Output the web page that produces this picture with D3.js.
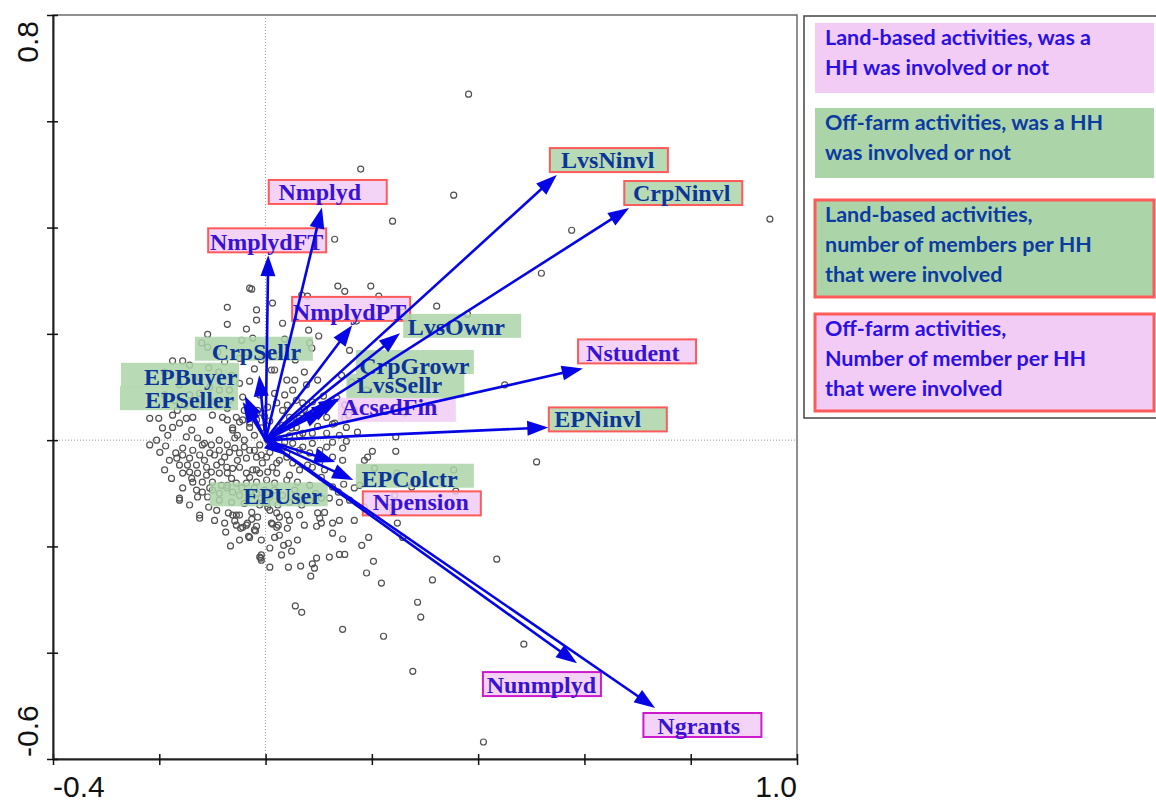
<!DOCTYPE html>
<html>
<head>
<meta charset="utf-8">
<script src="https://d3js.org/d3.v7.min.js"></script>
<style>
  body { margin: 0; background: #ffffff; }
  svg { display: block; }
</style>
</head>
<body>
<svg id="chart" width="1156" height="803"></svg>
<script>
// household scores (axis 1, axis 2)
var sitePoints = [
  [0.382,0.651],[0.179,0.510],[0.354,0.461],[0.239,0.412],[0.130,0.378],[0.576,0.395],[0.519,0.314],[0.949,0.416],
  [-0.030,0.286],[-0.026,0.284],[0.136,0.290],[0.149,0.280],[0.198,0.290],[0.213,0.271],[0.068,0.273],[0.079,0.271],
  [0.322,0.252],[0.380,0.237],[0.258,0.241],[0.450,0.104],[0.262,0.051],[0.201,0.231],[0.171,0.224],[0.158,0.169],
  [0.143,0.122],[0.162,0.109],[0.190,0.094],[0.134,0.079],[0.149,0.066],[0.156,0.047],
  [-0.072,0.250],[-0.017,0.245],[0.013,0.258],[-0.072,0.218],[-0.036,0.209],[-0.017,0.226],[-0.109,0.199],[-0.024,0.192],
  [0.032,0.220],[0.036,0.190],[0.081,0.207],[0.100,0.196],[0.083,0.183],[0.087,0.173],[-0.120,0.183],[-0.109,0.175],
  [-0.090,0.166],[-0.045,0.188],[-0.034,0.164],[-0.049,0.154],[-0.175,0.149],[-0.156,0.149],[0.011,0.132],[0.017,0.132],
  [-0.021,0.134],[-0.107,0.136],[-0.088,0.128],[-0.124,0.117],[-0.030,0.111],[-0.049,0.107],[0.040,0.113],[0.055,0.113],
  [0.077,0.104],[0.098,0.113],[0.051,0.094],[-0.087,0.094],[-0.105,0.100],[-0.068,0.094],[-0.043,0.081],[0.058,0.075],
  [0.070,0.070],[0.088,0.072],[0.109,0.083],[-0.218,0.041],[-0.201,0.041],[-0.175,0.047],[-0.149,0.041],[-0.137,0.043],
  [-0.175,0.024],[-0.184,0.009],[-0.162,0.032],[-0.100,0.047],[-0.081,0.043],[-0.049,0.034],[-0.030,0.032],[-0.062,0.019],
  [-0.105,0.019],[-0.139,0.019],[-0.149,0.006],[0.032,0.028],[0.058,0.034],[0.088,0.013],[0.115,0.013],[0.130,0.032],
  [0.115,0.043],[0.073,0.058],[0.041,0.066],[-0.124,0.066],[-0.096,0.072],[-0.072,0.060],[-0.015,0.056],[-0.002,0.045],
  [0.008,0.036],[-0.008,0.023],[0.017,0.015],[-0.021,0.009],[-0.040,0.000],[-0.058,0.004],[-0.087,0.000],[-0.115,-0.006],
  [-0.128,0.004],[0.004,0.000],[0.011,-0.009],[0.023,0.004],[0.036,-0.004],[0.045,0.008],[0.026,0.019],[0.049,0.023],
  [0.064,0.009],[-0.011,-0.009],[-0.021,-0.019],[-0.008,-0.028],[0.008,-0.023],[0.023,-0.015],[0.034,-0.013],
  [0.126,0.030],[0.152,0.024],[0.173,0.015],[0.139,0.009],[0.126,-0.004],[0.152,-0.002],[0.245,0.006],[0.245,-0.021],
  [0.201,-0.021],[0.192,-0.032],[0.186,-0.038],[0.145,-0.015],[0.145,-0.038],[0.126,-0.032],[0.510,-0.041],[0.205,-0.053],
  [0.247,-0.062],[0.354,-0.056],[0.358,-0.096],[0.275,-0.088],[0.147,-0.083],[0.167,-0.090],[0.137,-0.098],[0.120,-0.109],
  [0.139,-0.117],[0.233,-0.117],[0.243,-0.104],[0.186,-0.126],[0.239,-0.132],[0.248,-0.156],[0.258,-0.183],[0.126,-0.156],
  [0.126,-0.175],[0.145,-0.186],[0.194,-0.183],[0.139,-0.215],[0.149,-0.215],[0.120,-0.220],[0.203,-0.228],[0.190,-0.250],
  [0.218,-0.269],[0.314,-0.263],[0.435,-0.224],[0.286,-0.305],[0.292,-0.333],[0.277,-0.435],[0.486,-0.384],[0.410,-0.568],
  [0.222,-0.369],[0.145,-0.356],[0.056,-0.312],[0.068,-0.324],[-0.008,-0.226],[0.008,-0.239],[0.043,-0.239],[0.066,-0.237],
  [0.088,-0.233],[0.092,-0.241],[0.085,-0.256],[0.181,-0.198],
  [-0.162,-0.113],[-0.124,-0.141],[-0.124,-0.147],[-0.107,-0.126],[-0.092,-0.132],[-0.077,-0.156],[-0.070,-0.137],[-0.062,-0.141],
  [-0.058,-0.152],[-0.049,-0.141],[-0.055,-0.160],[-0.047,-0.166],[-0.036,-0.160],[-0.026,-0.149],[-0.026,-0.136],[-0.032,-0.181],
  [-0.019,-0.171],[-0.017,-0.162],[-0.066,-0.199],[-0.011,-0.220],[-0.009,-0.222],[0.008,-0.203],[0.013,-0.158],[0.024,-0.160],
  [0.017,-0.183],[0.026,-0.179],[0.041,-0.166],[0.034,-0.198],[0.043,-0.194],[0.049,-0.209],[0.096,-0.222],[0.098,-0.137],
  [0.102,-0.147],[0.105,-0.156],[0.096,-0.162],[0.002,-0.119],[0.008,-0.132],[0.021,-0.137],[0.023,-0.122],[-0.011,-0.122],
  [-0.205,0.000],[-0.188,-0.011],[-0.169,-0.024],[-0.156,-0.028],[-0.167,-0.034],[-0.156,-0.015],[-0.137,-0.019],[-0.119,-0.009],
  [-0.105,-0.024],[-0.096,-0.028],[-0.087,-0.019],[-0.077,-0.032],[-0.068,-0.023],[-0.049,-0.024],[-0.036,-0.034],[-0.030,-0.019],
  [-0.017,-0.032],[0.002,-0.032],[0.021,-0.043],[-0.162,-0.047],[-0.147,-0.047],[-0.130,-0.047],[-0.111,-0.051],[-0.092,-0.047],
  [-0.073,-0.051],[-0.062,-0.053],[-0.049,-0.051],[-0.156,-0.062],[-0.143,-0.060],[-0.128,-0.062],[-0.111,-0.066],[-0.087,-0.062],
  [-0.072,-0.062],[-0.036,-0.062],[-0.024,-0.056],[-0.011,-0.062],[0.004,-0.060],[0.021,-0.062],[-0.137,-0.079],[-0.119,-0.079],
  [-0.100,-0.079],[-0.083,-0.085],[-0.072,-0.085],[-0.055,-0.081],[-0.036,-0.081],[-0.017,-0.079],[0.002,-0.075],[0.017,-0.081],
  [0.040,-0.075],[0.060,-0.079],[-0.156,-0.090],[-0.130,-0.094],[-0.119,-0.098],[-0.128,-0.107],[-0.162,-0.109],[-0.100,-0.094],
  [-0.087,-0.100],[-0.073,-0.090],[-0.062,-0.098],[-0.049,-0.104],[-0.030,-0.098],[-0.017,-0.100],[-0.002,-0.094],[0.008,-0.107],
  [-0.055,-0.141],[-0.034,-0.156],[-0.015,-0.145],[0.004,-0.126],[0.026,-0.145],[0.011,-0.156],[0.021,-0.164],[0.041,-0.141],
  [-0.043,-0.164],[-0.030,-0.183],[-0.021,-0.169],[-0.008,-0.216],
  [0.070,-0.013],[0.040,-0.032],[0.051,-0.043],[0.079,-0.047],[0.088,-0.051],[0.102,-0.041],[0.115,-0.013],[0.105,-0.070],
  [0.126,-0.088],[0.105,-0.109],[0.017,-0.094],[0.032,-0.104],[0.045,-0.117],[0.064,-0.113],[0.068,-0.122],[0.083,-0.113],
  [0.083,0.047],[0.098,0.026],[0.064,0.041],[0.105,0.056],[0.149,0.041],[0.167,0.056],
  [-0.068,0.075],[-0.090,0.066],[-0.152,0.066],[-0.171,0.075],[-0.194,0.023],[-0.143,0.085],
  // dense core near the origin
  [-0.055,0.043],[-0.043,0.038],[-0.062,0.023],[-0.053,0.009],[-0.030,0.024],[-0.017,0.038],[-0.006,0.051],[0.004,0.062],
  [0.021,0.070],[0.032,0.056],[0.045,0.043],[0.058,0.024],[0.070,0.013],[0.088,-0.006],[0.102,-0.019],[0.083,-0.024],
  [0.064,-0.019],[0.051,-0.006],[0.040,-0.024],[0.026,-0.038],[0.013,-0.051],[-0.006,-0.043],[-0.017,-0.056],[-0.030,-0.070],
  [-0.218,-0.009],[-0.199,-0.023],[-0.181,-0.038],[-0.190,-0.056],[-0.177,-0.072],[-0.143,-0.034],[-0.124,-0.028],[-0.115,-0.038],
  [-0.102,-0.009],[-0.072,-0.009],[-0.058,-0.015],[-0.040,-0.013],[-0.053,-0.038],[-0.083,-0.041],[-0.102,-0.060],[-0.139,-0.072],
  [-0.105,-0.090],[-0.064,-0.072],[-0.045,-0.090],[-0.021,-0.090],[-0.008,-0.109],[-0.040,-0.119],[-0.064,-0.117],[-0.087,-0.113],
  [-0.109,-0.107],[-0.143,-0.122],[-0.096,-0.151],[-0.075,-0.173],[-0.049,-0.188],[-0.008,-0.188],[0.030,-0.216],[0.060,-0.188],
  [0.073,-0.160],[0.064,-0.141],[0.045,-0.151],[0.055,-0.094],[0.083,-0.085],[0.094,-0.100],[0.111,-0.136],[0.139,-0.151],
  [0.167,-0.151],[0.158,-0.113],[0.177,-0.085],[0.111,-0.056],[0.064,-0.056],[0.045,-0.066],
  [-0.190,0.128],[-0.143,0.141],[-0.077,0.147],[-0.064,0.122],[-0.008,0.151],[0.026,0.160],[0.056,0.151],[0.073,0.128],
  [-0.008,0.090],[0.017,0.088],[0.036,0.085],[-0.124,0.088],[-0.162,0.104],[-0.190,0.085],[-0.166,0.056],[-0.040,0.056],
  [-0.072,0.038],[-0.011,0.085]
];

// explanatory variables
var varNames = ['Nmplyd', 'NmplydFT', 'NmplydPT', 'LvsNinvl', 'CrpNinvl', 'Nstudent', 'EPNinvl',
  'Nunmplyd', 'Ngrants', 'Npension', 'EPColctr', 'EPUser', 'AcsedFin', 'LvsSellr', 'CrpGrowr',
  'LvsOwnr', 'CrpSellr', 'EPBuyer', 'EPSeller'];
var varGroup = ['offN', 'offN', 'offN', 'landN', 'landN', 'offN', 'landN',
  'offN2', 'offN2', 'offN', 'offYN', 'offYN', 'landYN', 'offYN', 'offYN',
  'offYN', 'offYN', 'offYN', 'offYN'];
// arrow tips
var arrowTips = [[0.106,0.438],[0.005,0.348],[0.163,0.216],[0.548,0.499],[0.684,0.437],[0.597,0.135],[0.532,0.024],
  [0.586,-0.420],[0.733,-0.504],[0.131,-0.041],[0.165,-0.075],[0.037,-0.028],[0.112,0.056],[0.127,0.068],[0.140,0.079],
  [0.253,0.201],[-0.012,0.122],[-0.039,0.083],[-0.043,0.072]];
// label text centres
var labelPos = [[0.102,0.467],[0.002,0.373],[0.158,0.241],[0.644,0.527],[0.783,0.465],[0.691,0.164],[0.625,0.040],
  [0.519,-0.461],[0.815,-0.538],[0.292,-0.117],[0.271,-0.072],[0.032,-0.104],[0.233,0.062],[0.252,0.104],[0.280,0.139],
  [0.359,0.213],[-0.017,0.167],[-0.141,0.119],[-0.143,0.075]];
// highlight box centres
var boxPos = [[0.117,0.467],[0.003,0.376],[0.161,0.247],[0.646,0.527],[0.786,0.465],[0.699,0.167],[0.644,0.039],
  [0.520,-0.459],[0.822,-0.536],[0.294,-0.119],[0.281,-0.067],[0.006,-0.102],[0.247,0.057],[0.263,0.102],[0.281,0.147],
  [0.370,0.215],[-0.022,0.172],[-0.161,0.123],[-0.163,0.079]];

var legendLines = [
  ['Land-based activities, was a', 'HH was involved or not'],
  ['Off-farm activities, was a HH', 'was involved or not'],
  ['Land-based activities,', 'number of members per HH', 'that were involved'],
  ['Off-farm activities,', 'Number of member per HH', 'that were involved']
];
var legendGroup = ['landYN', 'offYN', 'landN', 'offN'];

var xTicks = [-0.4, -0.2, 0, 0.2, 0.4, 0.6, 0.8, 1.0];
var yTicks = [-0.6, -0.4, -0.2, 0, 0.2, 0.4, 0.6, 0.8];
var xTickLabels = ['-0.4', '1.0'];
var yTickLabels = ['-0.6', '0.8'];

var green = '#abd5a9', pink = '#f2ccf5';
var groupStyle = {
  landYN: {fill: pink, stroke: 'none', text: '#3a12d4'},
  offYN: {fill: green, stroke: 'none', text: '#0c3598'},
  landN: {fill: green, stroke: '#ff5a5a', text: '#0c3598'},
  offN: {fill: pink, stroke: '#ff5a5a', text: '#3a12d4'},
  offN2: {fill: pink, stroke: '#cc1acc', text: '#3a12d4'}
};
var legendText = {landYN: '#2c10e2', offYN: '#0b3aa0', landN: '#0b3aa0', offN: '#2c10e2'};

var svg = d3.select('#chart');
var x = d3.scaleLinear().domain([-0.4, 1.0]).range([53, 797]);
var y = d3.scaleLinear().domain([-0.6, 0.8]).range([759, 15]);

// frame
svg.append('rect')
    .attr('x', x(-0.4)).attr('y', y(0.8))
    .attr('width', x(1.0) - x(-0.4)).attr('height', y(-0.6) - y(0.8))
    .style('fill', 'none').style('stroke', '#555').style('stroke-width', 1.3);

// zero lines
svg.append('line')
    .attr('x1', x(0)).attr('x2', x(0)).attr('y1', y(0.8)).attr('y2', y(-0.6))
    .style('stroke', '#999').style('stroke-width', 1).style('stroke-dasharray', '1,2');
svg.append('line')
    .attr('x1', x(-0.4)).attr('x2', x(1.0)).attr('y1', y(0)).attr('y2', y(0))
    .style('stroke', '#999').style('stroke-width', 1).style('stroke-dasharray', '1,2');

// axes, ticks cross the axis line
var gx = svg.append('g').attr('transform', 'translate(0,' + y(-0.6) + ')')
    .call(d3.axisBottom(x).tickValues(xTicks).tickFormat('').tickSizeOuter(0));
gx.selectAll('.tick line').attr('y1', -5).attr('y2', 6).style('stroke', '#111').style('stroke-width', 1.5);
gx.select('.domain').style('stroke', '#222').style('stroke-width', 2);

var gy = svg.append('g').attr('transform', 'translate(' + x(-0.4) + ',0)')
    .call(d3.axisLeft(y).tickValues(yTicks).tickFormat('').tickSizeOuter(0));
gy.selectAll('.tick line').attr('x1', -6).attr('x2', 5).style('stroke', '#111').style('stroke-width', 1.5);
gy.select('.domain').style('stroke', '#222').style('stroke-width', 2);

svg.append('text').text(xTickLabels[0])
    .attr('x', x(-0.4)).attr('y', 797)
    .style('font-family', 'Liberation Sans, Arial, sans-serif').style('font-size', '30px').style('fill', '#111');
svg.append('text').text(xTickLabels[1])
    .attr('x', x(1.0)).attr('y', 797).attr('text-anchor', 'end')
    .style('font-family', 'Liberation Sans, Arial, sans-serif').style('font-size', '30px').style('fill', '#111');
svg.append('text').text(yTickLabels[1])
    .attr('transform', 'translate(38,' + (y(0.8) + 6) + ') rotate(-90)').attr('text-anchor', 'end')
    .style('font-family', 'Liberation Sans, Arial, sans-serif').style('font-size', '30px').style('fill', '#111');
svg.append('text').text(yTickLabels[0])
    .attr('transform', 'translate(38,' + (y(-0.6) - 2) + ') rotate(-90)').attr('text-anchor', 'start')
    .style('font-family', 'Liberation Sans, Arial, sans-serif').style('font-size', '30px').style('fill', '#111');

// household points
svg.append('g').selectAll('circle').data(sitePoints).enter().append('circle')
    .attr('cx', function(d) { return x(d[0]); })
    .attr('cy', function(d) { return y(d[1]); })
    .attr('r', 3)
    .style('fill', 'none').style('stroke', '#505050').style('stroke-width', 1.2);

// highlight boxes
var vars = varNames.map(function(name, i) {
    return {name: name, group: varGroup[i], tip: arrowTips[i], label: labelPos[i], box: boxPos[i]};
});
var boxW = 118, boxH = 24;
svg.append('g').selectAll('rect').data(vars).enter().append('rect')
    .attr('x', function(d) { return x(d.box[0]) - boxW / 2; })
    .attr('y', function(d) { return y(d.box[1]) - boxH / 2; })
    .attr('width', boxW).attr('height', boxH)
    .style('fill', function(d) { return groupStyle[d.group].fill; })
    .style('fill-opacity', 0.85)
    .style('stroke', function(d) { return groupStyle[d.group].stroke; })
    .style('stroke-width', 2);

svg.append('g').selectAll('text').data(vars).enter().append('text')
    .text(function(d) { return d.name; })
    .attr('x', function(d) { return x(d.label[0]); })
    .attr('y', function(d) { return y(d.label[1]); })
    .attr('dy', '0.34em')
    .attr('text-anchor', 'middle')
    .style('font-family', 'Liberation Serif, Times New Roman, serif')
    .style('font-weight', 'bold')
    .style('font-size', '24px')
    .style('fill', function(d) { return groupStyle[d.group].text; });

// arrows from the origin
var headLen = 21, headHalf = 7.5;
var arrows = svg.append('g').selectAll('g').data(vars).enter().append('g');
arrows.append('line')
    .attr('x1', x(0)).attr('y1', y(0))
    .attr('x2', function(d) {
        var dx = x(d.tip[0]) - x(0), dy = y(d.tip[1]) - y(0), len = Math.sqrt(dx * dx + dy * dy);
        return x(d.tip[0]) - dx / len * (headLen - 2);
    })
    .attr('y2', function(d) {
        var dx = x(d.tip[0]) - x(0), dy = y(d.tip[1]) - y(0), len = Math.sqrt(dx * dx + dy * dy);
        return y(d.tip[1]) - dy / len * (headLen - 2);
    })
    .style('stroke', '#0505e6').style('stroke-width', 2.6);
arrows.append('path')
    .attr('d', function(d) {
        var tx = x(d.tip[0]), ty = y(d.tip[1]);
        var dx = tx - x(0), dy = ty - y(0), len = Math.sqrt(dx * dx + dy * dy);
        var ux = dx / len, uy = dy / len;
        var bx = tx - ux * headLen, by = ty - uy * headLen;
        return 'M' + tx + ',' + ty +
            'L' + (bx - uy * headHalf) + ',' + (by + ux * headHalf) +
            'L' + (bx + uy * headHalf) + ',' + (by - ux * headHalf) + 'Z';
    })
    .style('fill', '#0505e6');

// legend
var legend = svg.append('g');
legend.append('rect')
    .attr('x', 804).attr('y', 16).attr('width', 380).attr('height', 402)
    .style('fill', 'none').style('stroke', '#444').style('stroke-width', 1.5);
var legendTop = [23, 108, 200, 314];
var legendH = [70, 70, 97, 97];
legendLines.forEach(function(lines, i) {
    var st = groupStyle[legendGroup[i]];
    legend.append('rect')
        .attr('x', 815).attr('y', legendTop[i]).attr('width', 339).attr('height', legendH[i])
        .style('fill', st.fill)
        .style('stroke', st.stroke)
        .style('stroke-width', 3);
    lines.forEach(function(line, j) {
        legend.append('text').text(line)
            .attr('x', 825).attr('y', legendTop[i] + 22 + j * 30)
            .style('font-family', 'Lato, sans-serif')
            .style('font-weight', 'bold')
            .style('font-size', '21.5px')
            .style('fill', legendText[legendGroup[i]]);
    });
});
</script>
</body>
</html>
